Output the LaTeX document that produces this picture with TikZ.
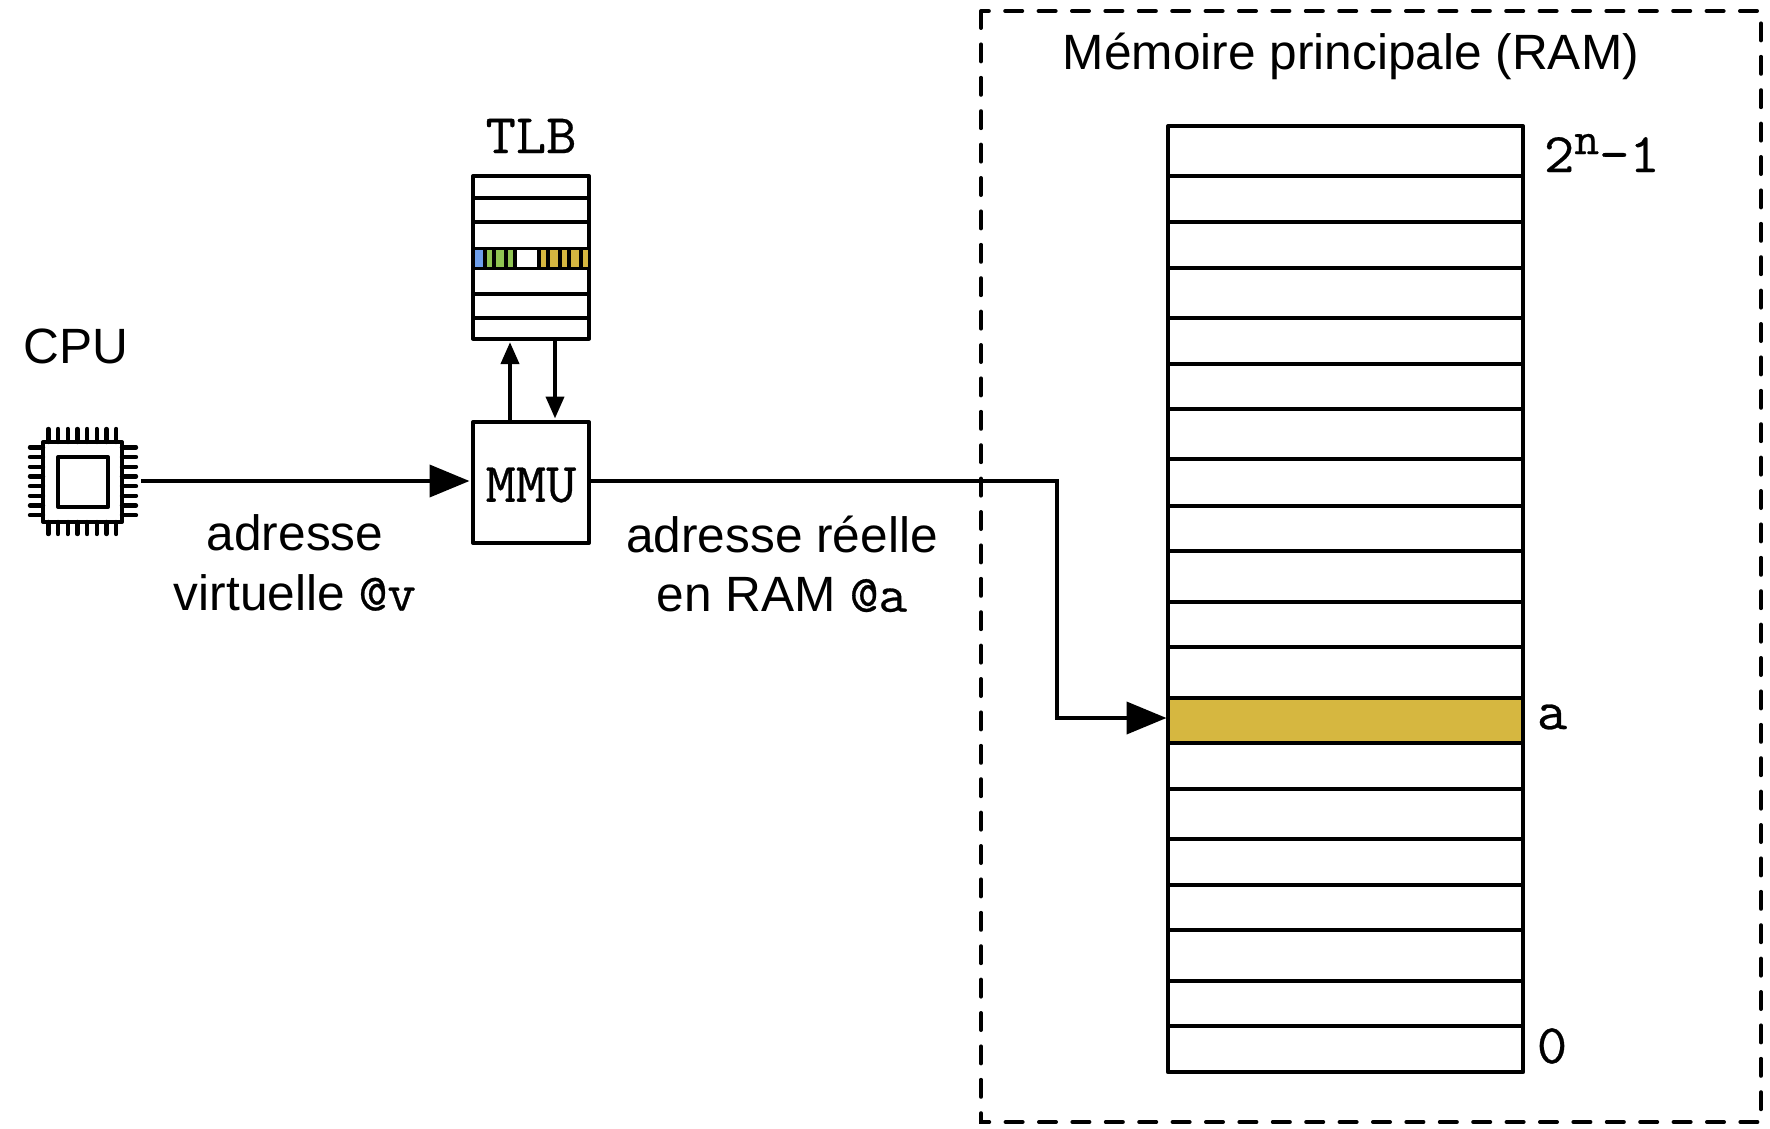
\documentclass[tikz,border=0pt]{standalone}
\usepackage{fontspec}
\setmainfont{Liberation Sans}
\setmonofont[FakeStretch=1.05,FakeBold=0.5]{Latin Modern Mono}
\usetikzlibrary{arrows.meta}
\definecolor{goldcell}{HTML}{D6B740}
\definecolor{greencell}{HTML}{8FC352}
\definecolor{bluecell}{HTML}{6D9EEB}
\begin{document}
\begin{tikzpicture}[x=1pt, y=-1pt, line width=4pt,
	label/.style = {font=\fontsize{49.6}{59.5}\selectfont, align=center, inner sep=0pt},
	mono/.style = {font=\fontsize{56}{59}\selectfont\ttfamily, inner sep=0pt},
	box/.style = {draw, rectangle, inner sep=0pt, line join=round},
	big/.style = {-{Triangle[length=40pt, width=32pt]}, shorten >=1.5pt},
	small/.style = {-{Triangle[length=22pt, width=18pt]}, shorten >=1.5pt},
	pin/.style = {line cap=round, line width=4.4pt}]
	
	\useasboundingbox (0,0) rectangle (1770,1129);
	
	% memoire
	\draw[line cap=round, dash pattern=on 17pt off 16.4pt] (981,11) rectangle (1761,1122);
	\node[label] (title) at (1351,56) {Mémoire principale (RAM)};
	
	\node[box, fill=white, minimum width=355pt, minimum height=946pt] (ram) at (1345.5,599.2) {};
	\foreach \y in {176,222.4,267.5,318.3,363.5,408.6,459.4,505.7,550.9,601.7,646.8,789,838.7,885,930.1,980.9,1026}
		\draw (1168,\y) -- (1523,\y);
	\node[box, fill=goldcell, minimum width=355pt, minimum height=45.2pt] (cella) at (1345.5,720.2) {};
	
	\node[mono, anchor=west] (top) at (1542,153) {2\raisebox{18pt}{\fontsize{46}{46}\selectfont n}-1};
	\node[mono] (a) at (1552,717) {a};
	\node[mono] (zero) at (1552,1046) {0};
	
	% TLB
	\node[mono] (tlbname) at (531,136) {TLB};
	\node[box, fill=white, minimum width=116pt, minimum height=162.6pt] (tlb) at (531,257.3) {};
	\foreach \y in {197.5,222.4,293.5,318}
		\draw (473,\y) -- (589,\y);
	\fill (473,247) rectangle (589,269.5);
	\foreach \xa/\xb/\c in {475/483.3/bluecell, 487.3/491.7/greencell, 495.7/504/greencell, 508.3/512.7/greencell, 516.7/537.3/white, 541.3/546/goldcell, 550/558.3/goldcell, 562.3/566.7/goldcell, 570.7/579/goldcell, 583.3/587.7/goldcell}
		\fill[\c] (\xa,250.3) rectangle (\xb,266.7);
	
	% MMU
	\node[box, minimum width=116pt, minimum height=121pt] (mmu) at (531,482.5) {};
	\node[mono] (mmuname) at (531,485) {MMU};
	
	% CPU
	\node[label] (cpuname) at (76,346) {CPU};
	\node[box, minimum width=79pt, minimum height=80pt] (cpu) at (82.5,482) {};
	\node[box, minimum width=50pt, minimum height=50pt] (core) at (83,482) {};
	\foreach \i in {0,...,7} {
		\draw[pin] (48.3+9.7*\i,429) -- (48.3+9.7*\i,442);
		\draw[pin] (48.3+9.7*\i,522) -- (48.3+9.7*\i,534);
		\draw[pin] (30,447.3+9.7*\i) -- (43,447.3+9.7*\i);
		\draw[pin] (122,447.3+9.7*\i) -- (136,447.3+9.7*\i);
	}
	\coordinate (start) at (141,481);
	\coordinate (up) at (510,0);
	\coordinate (down) at (555,0);
	\coordinate (bend) at (1056.5,481);
	\coordinate (entry) at (1168,718);
	
	\node[label] (virt) at (295,563) {adresse\\virtuelle {\fontsize{53}{59}\selectfont\ttfamily @v}};
	\node[label] (real) at (782,564) {adresse réelle\\en RAM {\fontsize{53}{59}\selectfont\ttfamily @a}};
	
	\draw[big] (start) -- (start -| mmu.west);
	\draw[small] (up |- mmu.north) -- (up |- tlb.south);
	\draw[small] (down |- tlb.south) -- (down |- mmu.north);
	\draw[big] (mmu.east |- bend) -- (bend) -- (bend |- entry) -- (entry);
	
\end{tikzpicture}
\end{document}
